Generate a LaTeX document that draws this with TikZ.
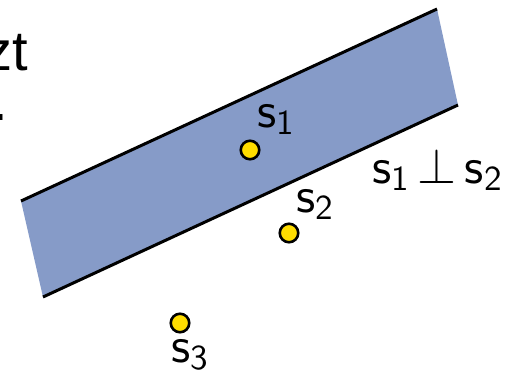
\documentclass[tikz,border=0pt]{standalone}
\usepackage{fix-cm}
\usepackage{fontspec}
\newfontfamily\slidefont{Liberation Sans}
\newfontfamily\lblfont{lmsans10-regular.otf}
\definecolor{bandblue}{RGB}{134,155,200}
\definecolor{dotyellow}{RGB}{255,221,0}
\newcommand{\sv}[1]{s\textsubscript{#1}}
\begin{document}
\begin{tikzpicture}[x=1pt, y=-1pt,
          pt/.style={circle, draw, line width=2.6pt, fill=dotyellow, minimum size=18.5pt, inner sep=0pt},
          lbl/.style={font=\lblfont\fontsize{50}{55}\selectfont, inner sep=0pt, anchor=base west},
          edge/.style={line width=3pt, line cap=butt}]
        \useasboundingbox (0,0) rectangle (510,375);
        % slide text cut at the left border
        \node[font=\slidefont\fontsize{56}{60}\selectfont, inner sep=0pt, anchor=base east] (word) at (28,70) {zt};
        \node[font=\slidefont\fontsize{56}{60}\selectfont, inner sep=0pt, anchor=base east] (stop) at (8,120) {.};
        % the band
        \coordinate (tl) at (21,201);
        \coordinate (tr) at (437,9);
        \coordinate (br) at (458,105);
        \coordinate (bl) at (43,297);
        \fill[bandblue] (tl) -- (tr) -- (br) -- (bl) -- cycle;
        \draw[edge] (tl) -- (tr);
        \draw[edge] (bl) -- (br);
        % points
        \node[pt] (s1) at (250,150) {};
        \node[pt] (s2) at (289,233) {};
        \node[pt] (s3) at (180,323) {};
        \node[lbl] (s1lbl) at (257,127) {\sv{1}};
        \node[lbl] (s2lbl) at (296,212) {\sv{2}};
        \node[lbl] (s3lbl) at (171,362) {\sv{3}};
        \node[lbl] (orth) at (372,183) {\sv{1}\,$\perp$\,\sv{2}};
      \end{tikzpicture}
\end{document}
